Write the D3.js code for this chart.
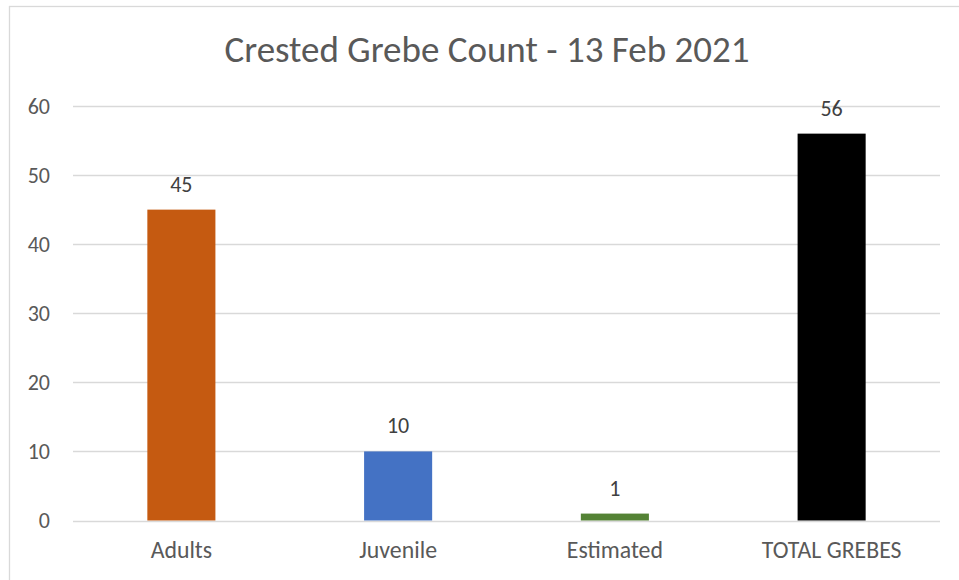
<!DOCTYPE html>
<html>
<head>
<meta charset="utf-8">
<script src="https://cdn.jsdelivr.net/npm/d3@7"></script>
<style>
  html, body { margin: 0; padding: 0; background: #fff; }
  svg { display: block; }
</style>
</head>
<body>
<svg id="chart" width="959" height="580"></svg>
<script>
// Crested grebe count data
const categories = ["Adults", "Juvenile", "Estimated", "TOTAL GREBES"];
const counts = [45, 10, 1, 56];
const barColors = ["#C55A11", "#4472C4", "#548235", "#000000"];
const yTicks = [0, 10, 20, 30, 40, 50, 60];
const title = "Crested Grebe Count - 13 Feb 2021";

const font = "Carlito, 'Open Sans', 'Liberation Sans', sans-serif";
const svg = d3.select("#chart");

// Chart frame (extends past the right/bottom edges)
svg.append("rect")
  .attr("x", 9.5).attr("y", 6.5)
  .attr("width", 1000).attr("height", 1000)
  .attr("fill", "#fff").attr("stroke", "#d9d9d9").attr("stroke-width", 1.3);

const plot = { left: 73, right: 940, top: 106, bottom: 520.5 };

const x = d3.scaleBand()
  .domain(categories)
  .range([plot.left, plot.right])
  .paddingInner(0.686).paddingOuter(0.343);

const y = d3.scaleLinear()
  .domain([0, 60])
  .range([plot.bottom, plot.top]);

// Gridlines
svg.append("g")
  .selectAll("line")
  .data(yTicks)
  .join("line")
  .attr("x1", plot.left).attr("x2", plot.right)
  .attr("y1", d => Math.round(y(d)) + 0.5).attr("y2", d => Math.round(y(d)) + 0.5)
  .attr("stroke", "#d9d9d9").attr("stroke-width", 1.3);

// Y axis labels
const yAxis = d3.axisLeft(y).tickValues(yTicks).tickSize(0).tickPadding(0);
svg.append("g")
  .attr("transform", `translate(${plot.left - 23},0)`)
  .call(yAxis)
  .call(g => g.select(".domain").remove())
  .call(g => g.selectAll("text")
    .attr("font-family", font).attr("font-size", 22).attr("fill", "#595959"));

// Bars
svg.append("g")
  .selectAll("rect")
  .data(categories)
  .join("rect")
  .attr("x", d => x(d))
  .attr("width", x.bandwidth())
  .attr("y", (d, i) => y(counts[i]))
  .attr("height", (d, i) => y(0) - y(counts[i]))
  .attr("fill", (d, i) => barColors[i]);

// Value labels
svg.append("g")
  .selectAll("text")
  .data(categories)
  .join("text")
  .attr("x", d => x(d) + x.bandwidth() / 2)
  .attr("y", (d, i) => y(counts[i]) - 18)
  .attr("text-anchor", "middle")
  .attr("font-family", font).attr("font-size", 22).attr("fill", "#404040")
  .text((d, i) => counts[i]);

// X axis labels
const xAxis = d3.axisBottom(x).tickSize(0).tickPadding(0);
svg.append("g")
  .attr("transform", `translate(0,${plot.bottom})`)
  .call(xAxis)
  .call(g => g.select(".domain").remove())
  .call(g => g.selectAll("text")
    .attr("dy", null).attr("y", 37.8)
    .attr("font-family", font).attr("font-size", 23.8).attr("fill", "#595959"));

// Title
svg.append("text")
  .attr("x", 487).attr("y", 62)
  .attr("text-anchor", "middle")
  .attr("font-family", font).attr("font-size", 37).attr("fill", "#595959")
  .text(title);
</script>
</body>
</html>
